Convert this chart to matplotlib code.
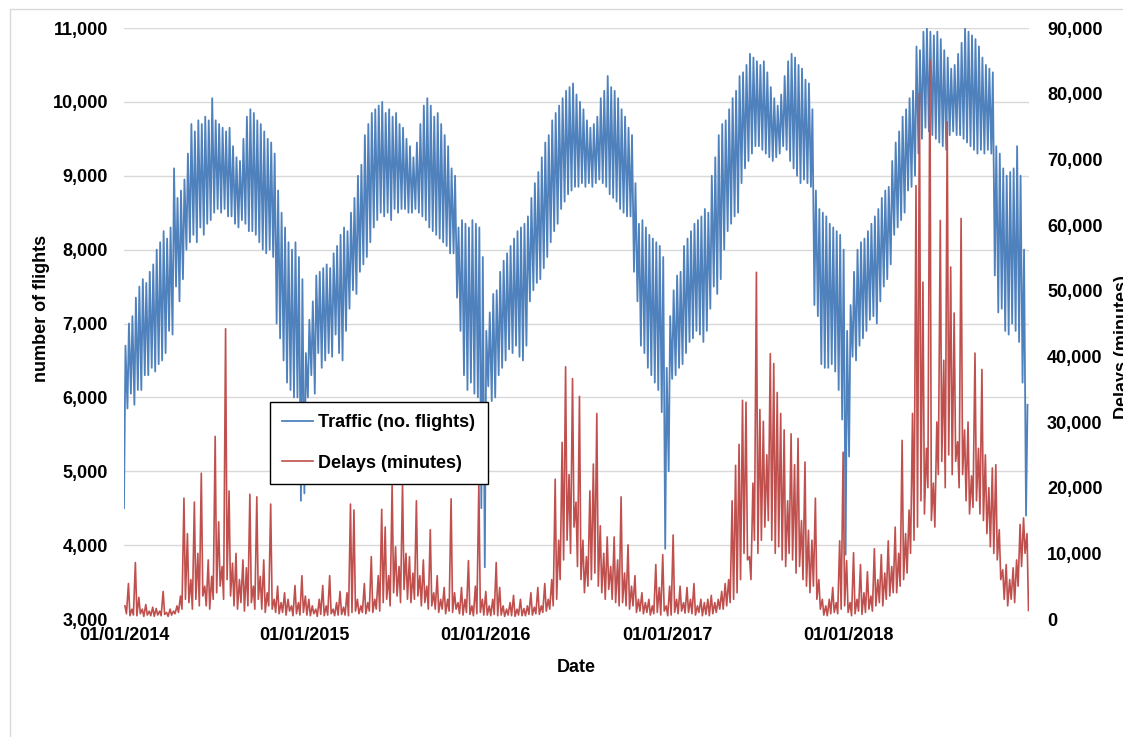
import numpy as np
import pandas as pd
import matplotlib
matplotlib.use("Agg")
import matplotlib.pyplot as plt
import matplotlib.dates as mdates
from matplotlib.ticker import FuncFormatter, MultipleLocator
from matplotlib.patches import Rectangle

plt.rcParams['font.family'] = ['Liberation Sans', 'DejaVu Sans']
plt.rcParams['font.weight'] = 'bold'

# one row of values per year, one value per week (weeks start 01/01/2014)
# traffic: weekend/holiday low and weekday high (number of flights)
traffic_low_2014 = [4500, 5850, 6050, 5900, 6100, 6100, 6300, 6300, 6400, 6350, 6450, 6500, 6600,
                    6900, 6850, 7500, 7300, 7600, 8000, 8100, 8200, 8100, 8300, 8200, 8350, 8400,
                    8500, 8550, 8500, 8550, 8450, 8450, 8350, 8300, 8400, 8350, 8250, 8250, 8200,
                    8100, 8000, 7950, 8000, 7900, 7000, 6800, 6500, 6200, 6100, 6000, 6000, 4600]
traffic_low_2015 = [4700, 6000, 6300, 6050, 6600, 6400, 6500, 6600, 6550, 6850, 6600, 6500, 6900,
                    7200, 7450, 7400, 7700, 7800, 7900, 8100, 8300, 8400, 8500, 8450, 8500, 8400,
                    8550, 8500, 8550, 8550, 8500, 8500, 8550, 8500, 8450, 8400, 8300, 8250, 8200,
                    8150, 8100, 8050, 7950, 7950, 7350, 6900, 6300, 6100, 6200, 6050, 6000, 4500]
traffic_low_2016 = [3700, 6150, 5950, 6000, 6300, 6400, 6500, 6650, 6600, 6700, 6550, 6500, 6700,
                    7300, 7450, 7550, 7600, 7750, 7900, 8100, 8250, 8350, 8550, 8650, 8750, 8800,
                    8850, 8850, 8900, 8850, 8900, 8850, 8900, 8950, 8900, 8850, 8750, 8700, 8650,
                    8550, 8500, 8450, 8450, 7700, 7300, 6700, 6600, 6400, 6300, 6200, 6100, 5800]
traffic_low_2017 = [3950, 5000, 6250, 6300, 6400, 6450, 6600, 6750, 6800, 6900, 6850, 6750, 6900,
                    7200, 7500, 7400, 7600, 8000, 8250, 8350, 8450, 8500, 8900, 9100, 9200, 9300,
                    9400, 9400, 9350, 9300, 9250, 9200, 9250, 9300, 9400, 9350, 9200, 9100, 9000,
                    8900, 8950, 8900, 8850, 7250, 7100, 6450, 6400, 6400, 6450, 6350, 6100, 5700]
traffic_low_2018 = [3870, 5200, 6550, 6500, 6700, 6800, 6900, 7050, 7100, 7000, 7300, 7500, 7600,
                    7800, 8200, 8300, 8400, 8500, 8800, 8850, 9000, 9300, 9500, 9650, 9600, 9550,
                    9500, 9450, 9400, 9350, 9550, 9600, 9550, 9550, 9500, 9450, 9400, 9350, 9300,
                    9350, 9300, 9350, 9300, 7650, 7150, 7200, 6900, 6850, 7000, 6900, 6750, 6200,
                    4400]

traffic_high_2014 = [6700, 7000, 7100, 7350, 7500, 7600, 7550, 7700, 7800, 8000, 8100, 8250, 8150,
                     8300, 9100, 8700, 8800, 8950, 9300, 9700, 9600, 9750, 9700, 9800, 9750, 10050,
                     9750, 9700, 9650, 9600, 9650, 9400, 9250, 9200, 9500, 9800, 9900, 9850, 9750,
                     9700, 9600, 9500, 9450, 9300, 8800, 8500, 8300, 8100, 8000, 8100, 7900, 7600]
traffic_high_2015 = [6600, 7050, 7300, 7650, 7700, 7750, 7800, 7750, 7950, 8050, 8200, 8300, 8250,
                     8500, 8700, 9000, 9150, 9550, 9700, 9850, 9900, 9950, 10000, 9850, 9900, 9800,
                     9850, 9700, 9650, 9500, 9400, 9250, 9450, 9700, 9950, 10050, 9950, 9800, 9850,
                     9700, 9550, 9400, 9100, 9000, 8300, 8400, 8350, 8300, 8400, 8350, 8300, 7900]
traffic_high_2016 = [6900, 7150, 7400, 7450, 7700, 7850, 7950, 8050, 8150, 8250, 8300, 8350, 8450,
                     8700, 8900, 9050, 9250, 9450, 9550, 9750, 9850, 9950, 10050, 10150, 10200, 10250,
                     10100, 10000, 9900, 9750, 9650, 9700, 9800, 10050, 10150, 10350, 10200, 10150,
                     10050, 9900, 9800, 9650, 9550, 8900, 8350, 8400, 8300, 8200, 8150, 8100, 8050,
                     7900]
traffic_high_2017 = [6400, 7100, 7450, 7650, 7700, 8050, 8150, 8250, 8350, 8400, 8450, 8550, 8500,
                     9000, 9250, 9550, 9700, 9750, 9900, 10050, 10150, 10350, 10400, 10500, 10650,
                     10600, 10550, 10500, 10550, 10400, 10200, 10050, 9950, 10100, 10350, 10550,
                     10650, 10600, 10500, 10450, 10300, 10250, 9900, 8800, 8550, 8500, 8450, 8350,
                     8300, 8250, 8200, 8000]
traffic_high_2018 = [6900, 7250, 7700, 8000, 8100, 8150, 8250, 8350, 8450, 8550, 8700, 8800, 8850,
                     9200, 9450, 9600, 9800, 9900, 10050, 10150, 10750, 10700, 10950, 11000, 10950,
                     10900, 10950, 10850, 10700, 10600, 10450, 10500, 10650, 10800, 11000, 10950,
                     10900, 10850, 10750, 10600, 10500, 10450, 10400, 9400, 9300, 9100, 9000, 9050,
                     9100, 9400, 9000, 8000, 5900]

# delays: worst day and quiet day of each week (minutes)
delay_peak_2014 = [2000, 5400, 1500, 8600, 3300, 1500, 2200, 1200, 1800, 1600, 1200, 4200, 1000,
                   1500, 1200, 2000, 3500, 18400, 13000, 6000, 17800, 10000, 22200, 5000, 9000, 6500,
                   27800, 14800, 8000, 44200, 19500, 8500, 10000, 6000, 9000, 7800, 19000, 5000,
                   18600, 6500, 9000, 4000, 17500, 3000, 5000, 2500, 4000, 3000, 2000, 5100, 2500,
                   6600]
delay_peak_2015 = [3500, 3000, 2000, 1500, 3000, 5100, 2000, 6600, 1500, 2500, 4200, 1800, 4000,
                   17500, 16600, 3000, 2000, 5400, 2500, 9500, 3000, 6600, 16700, 14000, 6600, 20400,
                   11000, 8000, 20700, 10000, 9500, 7000, 18000, 6600, 9000, 5000, 13600, 4000, 6600,
                   3000, 4800, 3000, 18300, 4000, 2500, 4800, 3000, 8900, 2000, 5000, 20700, 3000]
delay_peak_2016 = [4200, 2000, 3000, 8600, 4800, 2000, 1500, 2500, 3600, 1500, 3000, 1600, 2000,
                   4000, 1800, 4800, 2000, 5400, 3000, 6000, 21300, 12000, 26900, 38400, 22000, 36600,
                   17800, 33900, 12000, 9500, 19500, 23600, 31300, 14200, 10000, 12500, 8000, 12500,
                   9000, 18600, 7000, 11300, 5000, 6600, 3000, 4000, 2500, 3000, 2000, 8300, 4800,
                   9800]
delay_peak_2017 = [2000, 5000, 12800, 3000, 5000, 2500, 4800, 3000, 5400, 2000, 3000, 2500, 3000,
                   3600, 2500, 3000, 4200, 5400, 6000, 18000, 23400, 26600, 33300, 33000, 9500, 20700,
                   52800, 31900, 30100, 25000, 40400, 38900, 34500, 31300, 28800, 18000, 28200, 23500,
                   27500, 15000, 23900, 13500, 12000, 18400, 6000, 3000, 2000, 3000, 4800, 2500,
                   11900, 25400]
delay_peak_2018 = [8900, 2500, 10100, 3000, 8300, 4000, 7200, 3500, 10700, 6000, 9800, 7000, 11900,
                   8000, 14000, 10000, 27200, 13000, 16600, 31300, 66000, 80100, 51300, 26000, 85100,
                   20700, 30000, 60700, 39400, 75700, 53600, 46600, 27000, 61000, 28800, 30000, 21800,
                   40500, 26000, 38000, 25000, 20000, 23000, 23500, 13600, 7500, 8300, 6000, 7800,
                   9000, 14400, 15400, 13000]

delay_base_2014 = [800, 500, 600, 500, 800, 400, 600, 500, 400, 600, 500, 700, 400, 600, 800, 1000,
                   1500, 3000, 2500, 1500, 3000, 2000, 3500, 2000, 1500, 3000, 4000, 5000, 3000, 6000,
                   3500, 2000, 1500, 2500, 1200, 2000, 2500, 1500, 3000, 1500, 1000, 2000, 1500, 1000,
                   800, 1000, 600, 1200, 500, 800, 600, 1000]
delay_base_2015 = [600, 500, 800, 400, 700, 500, 600, 800, 500, 600, 700, 600, 500, 1000, 1200, 800,
                   1000, 800, 1200, 1000, 1500, 1200, 2500, 3000, 2000, 4000, 3500, 2500, 4500, 3000,
                   2500, 3000, 3500, 2000, 2500, 1500, 2000, 1500, 1000, 1500, 800, 1200, 1000, 1500,
                   800, 600, 1000, 700, 500, 800, 1000, 600]
delay_base_2016 = [600, 500, 700, 500, 600, 400, 600, 500, 400, 600, 500, 500, 700, 600, 800, 700,
                   1000, 1200, 1500, 2000, 3000, 6000, 9000, 12000, 10000, 14000, 8000, 6000, 4000,
                   5000, 6000, 7000, 5000, 4000, 3000, 4500, 3000, 2500, 2000, 2500, 2000, 1500, 2000,
                   1000, 1200, 800, 1000, 600, 800, 1000, 600, 1200]
delay_base_2017 = [500, 600, 1000, 800, 1200, 900, 1000, 800, 600, 1000, 500, 700, 500, 800, 1000,
                   1500, 1500, 2000, 2500, 3000, 4000, 6000, 10000, 9000, 6000, 12000, 10000, 12000,
                   14000, 15000, 12000, 10000, 11000, 9000, 8000, 10000, 9000, 7000, 8000, 6000, 5000,
                   4000, 5000, 3000, 1500, 600, 500, 800, 1000, 800, 1500, 2000]
delay_base_2018 = [1000, 500, 800, 1200, 700, 1000, 1500, 1200, 2000, 2500, 2000, 3000, 3500, 4000,
                   4000, 5000, 6000, 7000, 10000, 12000, 14000, 18000, 16000, 20000, 15000, 14000,
                   22000, 24000, 20000, 25000, 22000, 24000, 20000, 22000, 18000, 16000, 17000, 18000,
                   16000, 15000, 13000, 11000, 10000, 9000, 6000, 3000, 2000, 3000, 2500, 5000, 8000,
                   10000, 1300]

traffic_low = traffic_low_2014 + traffic_low_2015 + traffic_low_2016 + traffic_low_2017 + traffic_low_2018
traffic_high = traffic_high_2014 + traffic_high_2015 + traffic_high_2016 + traffic_high_2017 + traffic_high_2018
delay_peak = delay_peak_2014 + delay_peak_2015 + delay_peak_2016 + delay_peak_2017 + delay_peak_2018
delay_base = delay_base_2014 + delay_base_2015 + delay_base_2016 + delay_base_2017 + delay_base_2018

week_start = pd.date_range("2014-01-01", periods=len(traffic_low), freq="7D")
year_ticks = pd.date_range("2014-01-01", "2018-01-01", freq="YS")


def weekly_series(first, second, off1, off2):
    dates = week_start[:len(first)] + pd.Timedelta(days=off1)
    dates = dates.append(week_start[:len(second)] + pd.Timedelta(days=off2))
    s = pd.Series(list(first) + list(second), index=dates)
    return s.sort_index()


traffic = weekly_series(traffic_low, traffic_high, 0, 3)
delays = weekly_series(delay_peak, delay_base, 2, 5)

fig = plt.figure(figsize=(11.23, 7.37), dpi=100)
fig.patches.append(Rectangle((10 / 1123, -0.05), 1.2, 1 - 9 / 737 + 0.05, transform=fig.transFigure,
                             fill=False, edgecolor='#d9d9d9', lw=1.0))
ax = fig.add_axes([0.1104, 0.1601, 0.8059, 0.8019])
ax2 = ax.twinx()

l1, = ax.plot(traffic.index, traffic.values, color='#4f81bd', lw=1.3, label='Traffic (no. flights)')
l2, = ax2.plot(delays.index, delays.values, color='#c0504d', lw=1.2, label='Delays (minutes)')

ax.set_xlim(pd.Timestamp("2014-01-01"), pd.Timestamp("2019-01-01"))
ax.set_ylim(3000, 11000)
ax2.set_ylim(0, 90000)
ax.yaxis.set_major_locator(MultipleLocator(1000))
ax2.yaxis.set_major_locator(MultipleLocator(10000))
fmt = FuncFormatter(lambda v, p: f"{v:,.0f}")
ax.yaxis.set_major_formatter(fmt)
ax2.yaxis.set_major_formatter(fmt)
ax.set_xticks(year_ticks)
ax.xaxis.set_major_formatter(mdates.DateFormatter("%d/%m/%Y"))

ax.yaxis.grid(True, color='#d9d9d9', lw=1.0)
ax.set_axisbelow(True)
for a in (ax, ax2):
    for sp in a.spines.values():
        sp.set_visible(False)
ax.tick_params(axis='y', length=0, pad=11.5, labelsize=13)
ax.tick_params(axis='x', length=0, pad=6, labelsize=13)
ax2.tick_params(axis='y', length=0, pad=13, labelsize=13)

ax.set_xlabel("Date", fontsize=13, fontweight='bold')
ax.xaxis.set_label_coords(0.5, -0.068)
ax.xaxis.label.set_va('top')
ax.set_ylabel("number of flights", fontsize=13, fontweight='bold')
ax.yaxis.set_label_coords(-0.082, 0.525)
ax2.set_ylabel("Delays (minutes)", fontsize=13, fontweight='bold')
ax2.yaxis.set_label_coords(1.094, 0.46)

leg = ax2.legend(handles=[l1, l2], loc='lower left', bbox_to_anchor=(0.161, 0.228), borderaxespad=0,
                 fontsize=13, frameon=True, fancybox=False, framealpha=1, edgecolor='black',
                 handlelength=1.7, handletextpad=0.3, labelspacing=1.3, borderpad=0.7)
leg.get_frame().set_linewidth(1.0)
for t in leg.get_texts():
    t.set_fontweight('bold')

fig.savefig("out.png", dpi=100)
